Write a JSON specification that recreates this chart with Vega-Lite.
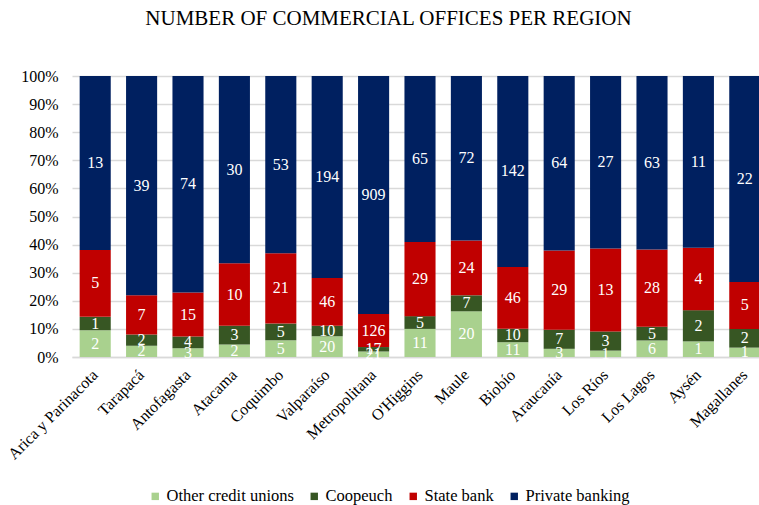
{
  "$schema": "https://vega.github.io/schema/vega-lite/v6.json",
  "autosize": "none",
  "width": 687,
  "height": 281,
  "padding": {"left": 72, "top": 76, "right": 0, "bottom": 148},
  "background": "white",
  "title": {
    "text": "NUMBER OF COMMERCIAL OFFICES PER REGION",
    "font": "Liberation Serif",
    "fontSize": 21,
    "fontWeight": "normal",
    "color": "#000000",
    "anchor": "middle",
    "dx": -27,
    "offset": 39
  },
  "data": {
    "values": [
      {"region": "Arica y Parinacota", "type": "Other credit unions", "n": 2},
      {"region": "Arica y Parinacota", "type": "Coopeuch", "n": 1},
      {"region": "Arica y Parinacota", "type": "State bank", "n": 5},
      {"region": "Arica y Parinacota", "type": "Private banking", "n": 13},
      {"region": "Tarapacá", "type": "Other credit unions", "n": 2},
      {"region": "Tarapacá", "type": "Coopeuch", "n": 2},
      {"region": "Tarapacá", "type": "State bank", "n": 7},
      {"region": "Tarapacá", "type": "Private banking", "n": 39},
      {"region": "Antofagasta", "type": "Other credit unions", "n": 3},
      {"region": "Antofagasta", "type": "Coopeuch", "n": 4},
      {"region": "Antofagasta", "type": "State bank", "n": 15},
      {"region": "Antofagasta", "type": "Private banking", "n": 74},
      {"region": "Atacama", "type": "Other credit unions", "n": 2},
      {"region": "Atacama", "type": "Coopeuch", "n": 3},
      {"region": "Atacama", "type": "State bank", "n": 10},
      {"region": "Atacama", "type": "Private banking", "n": 30},
      {"region": "Coquimbo", "type": "Other credit unions", "n": 5},
      {"region": "Coquimbo", "type": "Coopeuch", "n": 5},
      {"region": "Coquimbo", "type": "State bank", "n": 21},
      {"region": "Coquimbo", "type": "Private banking", "n": 53},
      {"region": "Valparaíso", "type": "Other credit unions", "n": 20},
      {"region": "Valparaíso", "type": "Coopeuch", "n": 10},
      {"region": "Valparaíso", "type": "State bank", "n": 46},
      {"region": "Valparaíso", "type": "Private banking", "n": 194},
      {"region": "Metropolitana", "type": "Other credit unions", "n": 21},
      {"region": "Metropolitana", "type": "Coopeuch", "n": 17},
      {"region": "Metropolitana", "type": "State bank", "n": 126},
      {"region": "Metropolitana", "type": "Private banking", "n": 909},
      {"region": "O'Higgins", "type": "Other credit unions", "n": 11},
      {"region": "O'Higgins", "type": "Coopeuch", "n": 5},
      {"region": "O'Higgins", "type": "State bank", "n": 29},
      {"region": "O'Higgins", "type": "Private banking", "n": 65},
      {"region": "Maule", "type": "Other credit unions", "n": 20},
      {"region": "Maule", "type": "Coopeuch", "n": 7},
      {"region": "Maule", "type": "State bank", "n": 24},
      {"region": "Maule", "type": "Private banking", "n": 72},
      {"region": "Biobío", "type": "Other credit unions", "n": 11},
      {"region": "Biobío", "type": "Coopeuch", "n": 10},
      {"region": "Biobío", "type": "State bank", "n": 46},
      {"region": "Biobío", "type": "Private banking", "n": 142},
      {"region": "Araucanía", "type": "Other credit unions", "n": 3},
      {"region": "Araucanía", "type": "Coopeuch", "n": 7},
      {"region": "Araucanía", "type": "State bank", "n": 29},
      {"region": "Araucanía", "type": "Private banking", "n": 64},
      {"region": "Los Ríos", "type": "Other credit unions", "n": 1},
      {"region": "Los Ríos", "type": "Coopeuch", "n": 3},
      {"region": "Los Ríos", "type": "State bank", "n": 13},
      {"region": "Los Ríos", "type": "Private banking", "n": 27},
      {"region": "Los Lagos", "type": "Other credit unions", "n": 6},
      {"region": "Los Lagos", "type": "Coopeuch", "n": 5},
      {"region": "Los Lagos", "type": "State bank", "n": 28},
      {"region": "Los Lagos", "type": "Private banking", "n": 63},
      {"region": "Aysén", "type": "Other credit unions", "n": 1},
      {"region": "Aysén", "type": "Coopeuch", "n": 2},
      {"region": "Aysén", "type": "State bank", "n": 4},
      {"region": "Aysén", "type": "Private banking", "n": 11},
      {"region": "Magallanes", "type": "Other credit unions", "n": 1},
      {"region": "Magallanes", "type": "Coopeuch", "n": 2},
      {"region": "Magallanes", "type": "State bank", "n": 5},
      {"region": "Magallanes", "type": "Private banking", "n": 22}
    ]
  },
  "transform": [
    {"calculate": "indexof(['Other credit unions','Coopeuch','State bank','Private banking'], datum.type)", "as": "k"}
  ],
  "encoding": {
    "x": {
      "field": "region",
      "type": "nominal",
      "sort": null,
      "title": null,
      "scale": {"range": [0, 696], "paddingInner": 0.33, "paddingOuter": 0.165},
      "axis": {
        "labelAngle": -45,
        "labelAlign": "right",
        "labelBaseline": "middle",
        "labelFontSize": 16,
        "labelColor": "#000000",
        "labelPadding": 15,
        "ticks": false,
        "domainColor": "#D9D9D9",
        "domainWidth": 1.5
      }
    },
    "y": {
      "field": "n",
      "type": "quantitative",
      "stack": "normalize",
      "title": null,
      "scale": {"domain": [0, 1]},
      "axis": {
        "format": "%",
        "values": [0, 0.1, 0.2, 0.3, 0.4, 0.5, 0.6, 0.7, 0.8, 0.9, 1],
        "labelFontSize": 16,
        "labelColor": "#000000",
        "labelPadding": 14,
        "ticks": false,
        "domain": false,
        "gridColor": "#D9D9D9",
        "gridWidth": 1.5
      }
    },
    "order": {"field": "k", "type": "quantitative"}
  },
  "layer": [
    {
      "mark": {"type": "bar"},
      "encoding": {
        "color": {
          "field": "type",
          "type": "nominal",
          "title": null,
          "scale": {
            "domain": ["Other credit unions", "Coopeuch", "State bank", "Private banking"],
            "range": ["#A9D18E", "#375623", "#C00000", "#002060"]
          },
          "legend": {
            "orient": "none",
            "direction": "horizontal",
            "legendX": 75,
            "legendY": 412,
            "symbolType": "square",
            "symbolSize": 55,
            "symbolStrokeWidth": 0,
            "labelFontSize": 16.5,
            "labelColor": "#000000",
            "columnPadding": 12,
            "labelOffset": 3
          }
        }
      }
    },
    {
      "mark": {"type": "text", "color": "white", "fontSize": 16, "baseline": "middle"},
      "encoding": {
        "y": {"field": "n", "type": "quantitative", "stack": "normalize", "bandPosition": 0.5},
        "detail": {"field": "type"},
        "text": {"field": "n", "type": "quantitative"}
      }
    }
  ],
  "config": {
    "font": "Liberation Serif",
    "view": {"stroke": null}
  }
}
